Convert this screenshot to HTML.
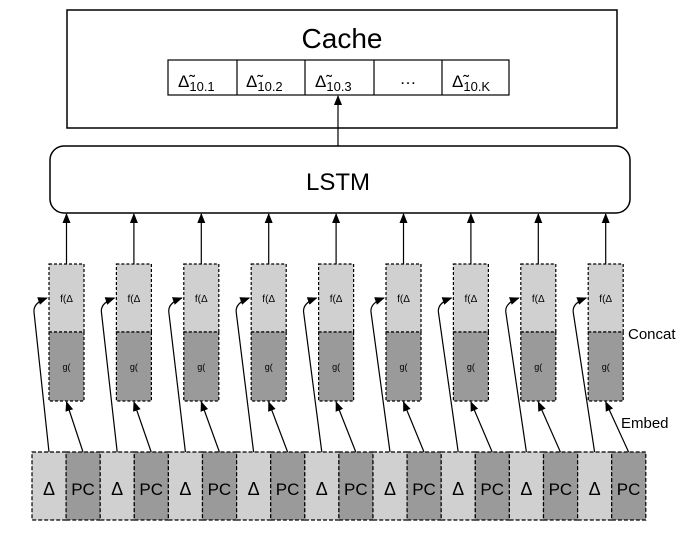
<!DOCTYPE html>
<html><head><meta charset="utf-8"><style>
html,body{margin:0;padding:0;background:#fff;}
svg{display:block;font-family:"Liberation Sans",Arial,sans-serif;}
</style></head><body>
<svg width="700" height="535" viewBox="0 0 700 535" xmlns="http://www.w3.org/2000/svg">
<defs>
<marker id="ah" markerWidth="10" markerHeight="8" refX="9" refY="4" orient="auto" markerUnits="userSpaceOnUse">
<path d="M0,0 L10,4 L0,8 z" fill="#000"/>
</marker>
</defs>
<!-- Cache -->
<rect x="67" y="10" width="550" height="118" fill="#fff" stroke="#000" stroke-width="1.5"/>
<text x="342" y="48" font-size="28" text-anchor="middle">Cache</text>
<rect x="168" y="60" width="341" height="35" fill="#fff" stroke="#000" stroke-width="1.2"/>
<g stroke="#000" stroke-width="1.2"><line x1="237" y1="60" x2="237" y2="95"/><line x1="305" y1="60" x2="305" y2="95"/><line x1="374" y1="60" x2="374" y2="95"/><line x1="442" y1="60" x2="442" y2="95"/></g>
<g font-size="17">
<text x="178" y="87">Δ̃<tspan font-size="13" dy="4">10.1</tspan></text>
<text x="246" y="87">Δ̃<tspan font-size="13" dy="4">10.2</tspan></text>
<text x="315" y="87">Δ̃<tspan font-size="13" dy="4">10.3</tspan></text>
<text x="408" y="84" text-anchor="middle">…</text>
<text x="452" y="87">Δ̃<tspan font-size="13" dy="4">10.K</tspan></text>
</g>
<line x1="338" y1="146" x2="338" y2="96" stroke="#000" stroke-width="1.2" marker-end="url(#ah)"/>
<!-- LSTM -->
<rect x="50" y="146" width="580" height="67" rx="14" fill="#fff" stroke="#000" stroke-width="1.5"/>
<text x="338" y="190" font-size="24" text-anchor="middle">LSTM</text>
<!-- columns -->
<g id="cols" font-size="10">
</g>
<script>
(function(){
var ns="http://www.w3.org/2000/svg",svg=document.querySelector('svg');
function el(n,a,t){var e=document.createElementNS(ns,n);for(var k in a)e.setAttribute(k,a[k]);if(t!=null)e.textContent=t;svg.appendChild(e);return e;}
for(var i=0;i<9;i++){
 var bx=49+67.4*i,cx=bx+17.5;
 el('line',{x1:cx,y1:264,x2:cx,y2:214,stroke:'#000','stroke-width':1.2,'marker-end':'url(#ah)'});
 el('rect',{x:bx,y:264,width:35,height:68,fill:'#d0d0d0',stroke:'#000','stroke-width':1.2,'stroke-dasharray':'3,2'});
 el('rect',{x:bx,y:332,width:35,height:69,fill:'#9a9a9a',stroke:'#000','stroke-width':1.2,'stroke-dasharray':'3,2'});
 var t=el('text',{x:cx,y:302,'font-size':10,'text-anchor':'middle'});t.innerHTML='f(Δ<tspan font-size="8" dy="2">'+(i+1)+'</tspan><tspan dy="-2">)</tspan>';
 var g=el('text',{x:cx,y:370,'font-size':9,'text-anchor':'middle'});g.innerHTML='g(<tspan font-size="7">PC</tspan><tspan font-size="7" dy="2">'+(i+1)+'</tspan><tspan dy="-2">)</tspan>';
 var dx=32+68.2*i;
 el('rect',{x:dx,y:452,width:34.1,height:68,fill:'#d0d0d0',stroke:'#000','stroke-width':1.2,'stroke-dasharray':'4,2'});
 el('rect',{x:dx+34.1,y:452,width:34.1,height:68,fill:'#9a9a9a',stroke:'#000','stroke-width':1.2,'stroke-dasharray':'4,2'});
 var a=el('text',{x:dx+17,y:495,'font-size':18,'text-anchor':'middle'});a.innerHTML='Δ<tspan font-size="14" dy="4">'+(i+1)+'</tspan>';
 var p=el('text',{x:dx+51,y:495,'font-size':17,'text-anchor':'middle'});p.innerHTML='PC<tspan font-size="14" dy="4">'+(i+1)+'</tspan>';
 el('line',{x1:dx+51,y1:452,x2:cx,y2:402,stroke:'#000','stroke-width':1.2,'marker-end':'url(#ah)'});
 el('path',{d:'M'+(dx+17)+',452 L'+(bx-15)+',312 Q'+(bx-16)+',303 '+(bx-2)+',298',fill:'none',stroke:'#000','stroke-width':1.2,'marker-end':'url(#ah)'});
}
})();
</script>
<text x="628" y="339" font-size="15">Concat</text>
<text x="621" y="428" font-size="15">Embed</text>
</svg>
</body></html>
